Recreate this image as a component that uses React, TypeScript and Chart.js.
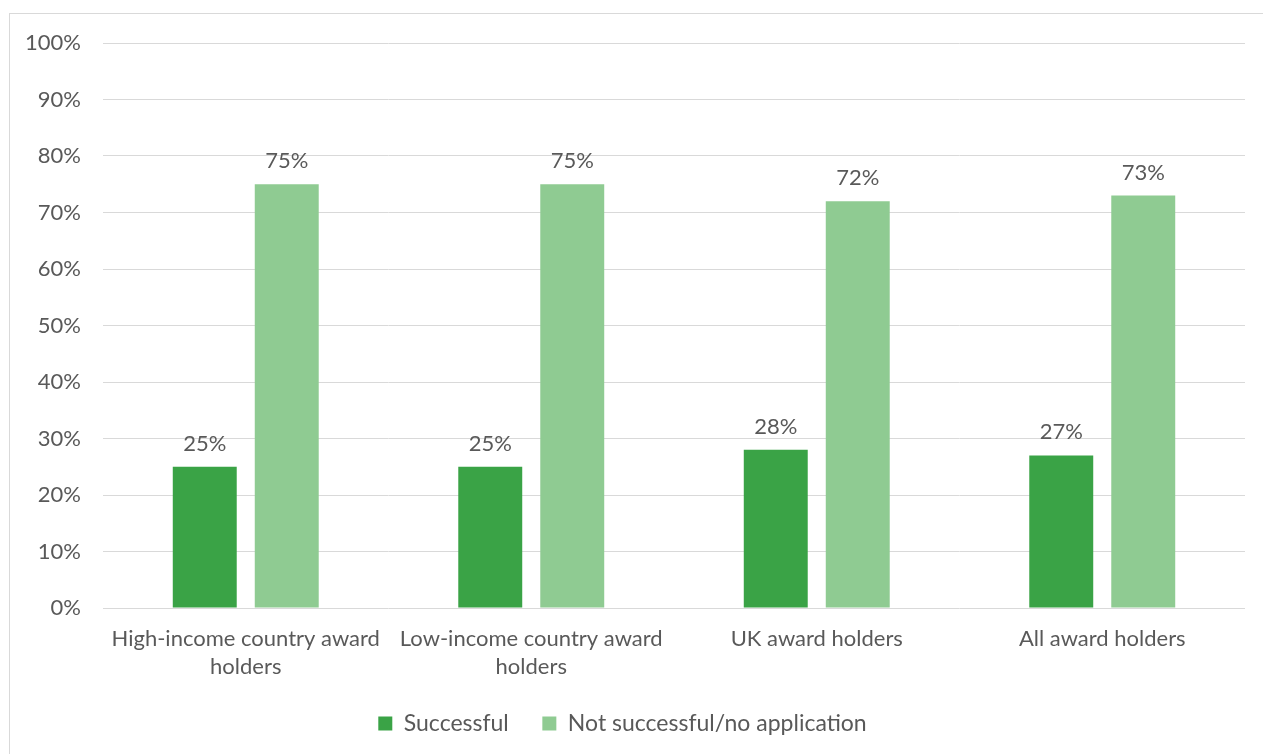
import React, { useEffect, useRef } from "react";
import { Chart, registerables } from "chart.js";

Chart.register(...registerables);

const categories: (string | string[])[] = [
  ["High-income country award", "holders"],
  ["Low-income country award", "holders"],
  "UK award holders",
  "All award holders",
];
const successful = [25, 25, 28, 27];
const notSuccessful = [75, 75, 72, 73];
const seriesNames = ["Successful", "Not successful/no application"];
const yTicks = [0, 10, 20, 30, 40, 50, 60, 70, 80, 90, 100];

const FONT = "Lato, 'Open Sans', sans-serif";
const TEXT = "#595959";

const dataLabels = {
  id: "dataLabels",
  afterDatasetsDraw(chart: any) {
    const ctx = chart.ctx;
    ctx.save();
    ctx.font = `22px ${FONT}`;
    ctx.fillStyle = TEXT;
    ctx.textAlign = "center";
    ctx.textBaseline = "alphabetic";
    chart.data.datasets.forEach((ds: any, i: number) => {
      const meta = chart.getDatasetMeta(i);
      meta.data.forEach((bar: any, j: number) => {
        ctx.fillText(`${ds.data[j]}%`, bar.x, bar.y - 16);
      });
    });
    ctx.restore();
  },
};

export default function App() {
  const ref = useRef<HTMLCanvasElement>(null);
  useEffect(() => {
    if (!ref.current) return;
    const chart = new Chart(ref.current, {
      type: "bar",
      data: {
        labels: categories,
        datasets: [
          {
            label: seriesNames[0],
            data: successful,
            backgroundColor: "#3aa346",
            categoryPercentage: 0.5744,
            barPercentage: 0.78,
          },
          {
            label: seriesNames[1],
            data: notSuccessful,
            backgroundColor: "#8fcb92",
            categoryPercentage: 0.5744,
            barPercentage: 0.78,
          },
        ],
      },
      options: {
        responsive: false,
        animation: false,
        layout: { padding: { top: 43, right: 18, bottom: 9, left: 0 } },
        plugins: {
          legend: {
            position: "bottom",
            labels: {
              boxWidth: 14,
              boxHeight: 14,
              color: TEXT,
              font: { family: FONT, size: 23 },
              padding: 10,
              generateLabels: (c: any) => {
                const items = (Chart as any).defaults.plugins.legend.labels.generateLabels(c);
                return items.map((it: any, i: number) =>
                  i === 0 ? { ...it, text: it.text + "    " } : it
                );
              },
            },
          },
          tooltip: { enabled: false },
        },
        scales: {
          x: {
            grid: { display: false, drawTicks: false },
            border: { display: false },
            ticks: {
              color: TEXT,
              font: { family: FONT, size: 22, lineHeight: 1.27 },
              maxRotation: 0,
              minRotation: 0,
              autoSkip: false,
              padding: 17,
            },
            afterFit: (s: any) => {
              s.height = 94;
            },
          },
          y: {
            min: 0,
            max: 100,
            afterBuildTicks: (s: any) => {
              s.ticks = yTicks.map((v) => ({ value: v }));
            },
            grid: { color: "#d9d9d9", lineWidth: 1, drawTicks: false },
            border: { display: false },
            ticks: {
              color: TEXT,
              font: { family: FONT, size: 22 },
              padding: 22,
              callback: (v: any) => `${v}%`,
            },
            afterFit: (s: any) => {
              s.width = 103;
            },
          },
        },
      },
      plugins: [dataLabels],
    });
    return () => chart.destroy();
  }, []);

  return (
    <div style={{ position: "fixed", left: 0, top: 0, width: 1263, height: 754, background: "#fff" }}>
      <div
        style={{
          position: "absolute",
          left: 9,
          top: 13,
          width: 1270,
          height: 800,
          border: "1px solid #d9d9d9",
          boxSizing: "border-box",
        }}
      />
      <canvas ref={ref} width={1263} height={754} style={{ position: "absolute", left: 0, top: 0 }} />
    </div>
  );
}
